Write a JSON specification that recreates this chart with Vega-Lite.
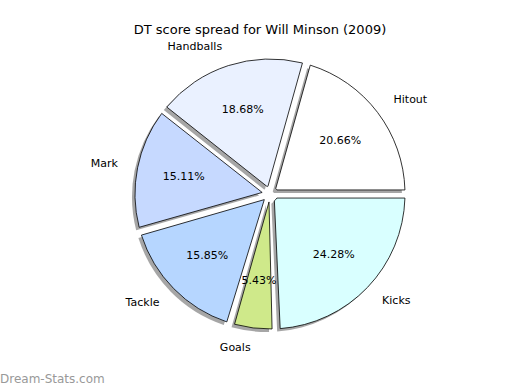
{
  "$schema": "https://vega.github.io/schema/vega-lite/v6.json",
  "padding": {"left": 0, "top": 23, "right": 0, "bottom": 0},
  "title": {"text": "DT score spread for Will Minson (2009)", "anchor": "middle", "font": "DejaVu Sans", "fontSize": 13, "fontWeight": "normal", "color": "#000000", "offset": 4},
  "config": {"view": {"stroke": null}, "font": "DejaVu Sans"},
  "data": {"values": [
    {"n": 1, "label": "Hitout", "pct": 0.2066},
    {"n": 2, "label": "Handballs", "pct": 0.1868},
    {"n": 3, "label": "Mark", "pct": 0.1511},
    {"n": 4, "label": "Tackle", "pct": 0.1585},
    {"n": 5, "label": "Goals", "pct": 0.0543},
    {"n": 6, "label": "Kicks", "pct": 0.2428}
  ]},
  "vconcat": [{
    "width": 500,
    "height": 290,
    "title": {"text": "Dream-Stats.com", "orient": "bottom", "anchor": "start", "dx": -20, "offset": 21, "color": "#999999", "fontSize": 12, "fontWeight": "normal", "font": "DejaVu Sans"},
    "encoding": {
      "theta": {"field": "pct", "type": "quantitative", "stack": true, "scale": {"range": [1.5708, -4.7124]}},
      "order": {"field": "n", "type": "quantitative"}
    },
    "layer": [
      {
        "mark": {"type": "arc", "outerRadius": 135, "innerRadius": 8, "padAngle": 0.06, "fill": "#4d4d4d", "fillOpacity": 0.5, "xOffset": -3, "yOffset": 3},
        "encoding": {"detail": {"field": "label"}}
      },
      {
        "mark": {"type": "arc", "outerRadius": 135, "innerRadius": 8, "padAngle": 0.06, "stroke": "#000000", "strokeWidth": 0.8},
        "encoding": {
          "color": {"field": "label", "type": "nominal", "legend": null,
            "scale": {"domain": ["Hitout", "Handballs", "Mark", "Tackle", "Goals", "Kicks"],
                      "range": ["#ffffff", "#eaf1ff", "#c6d9ff", "#b6d6ff", "#cfe98a", "#d9ffff"]}}
        }
      },
      {
        "mark": {"type": "text", "radius": 155, "font": "DejaVu Sans", "fontSize": 11, "baseline": "middle", "fill": "#000000",
          "align": {"expr": "((datum.pct_start + datum.pct_end) / 2 < 0.25 || (datum.pct_start + datum.pct_end) / 2 > 0.75) ? 'left' : 'right'"}},
        "encoding": {"detail": {"field": "label"}, "text": {"field": "label"}}
      },
      {
        "mark": {"type": "text", "radius": 88, "font": "DejaVu Sans", "fontSize": 11, "baseline": "middle", "align": "center", "fill": "#000000"},
        "encoding": {"detail": {"field": "label"}, "text": {"field": "pct", "type": "quantitative", "format": ".2%"}}
      }
    ]
  }]
}
